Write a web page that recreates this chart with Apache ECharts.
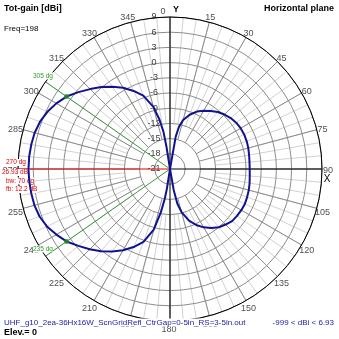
<!DOCTYPE html>
<html>
<head>
<meta charset="utf-8">
<script src="https://cdn.jsdelivr.net/npm/echarts@6/dist/echarts.min.js"></script>
<style>
html, body { margin: 0; padding: 0; background: #fff; }
#c { width: 339px; height: 339px; }
</style>
</head>
<body>
<div id="c"></div>
<script>
// Horizontal-plane total gain (dBi) of the antenna, one value per azimuth (degrees).
const patternAngles = [0, 8, 10, 12, 15, 20, 25, 30, 35, 40, 45, 50, 55, 60, 65, 70, 75, 80, 85, 90,
  95, 100, 105, 110, 115, 120, 125, 130, 135, 140, 145, 150, 155, 160, 165, 168, 170, 172, 180,
  187, 189, 190, 192, 195, 200, 205, 210, 215, 220, 225, 230, 235, 240, 245, 250, 255, 260, 265, 270,
  275, 280, 285, 290, 295, 300, 305, 310, 315, 320, 325, 330, 335, 340, 345, 348, 350, 351, 353, 360];
const patternGain = [-21, -21, -14.5, -12.5, -11.0, -9.6, -8.5, -7.7, -7.0, -6.3, -5.8, -5.35, -5.05, -4.9, -4.85, -4.9, -5.0, -5.15, -5.25, -5.27,
  -5.2, -5.05, -4.9, -4.8, -4.7, -4.75, -4.85, -5.0, -5.5, -6.0, -6.8, -7.7, -8.8, -10.2, -12.2, -14.0, -16.8, -21, -21,
  -21, -17, -15, -12.2, -8.6, -5.7, -4.0, -2.5, -1.1, 0.2, 1.4, 2.6, 3.93, 4.9, 5.8, 6.4, 6.7, 6.8, 6.88, 6.93,
  6.9, 6.8, 6.65, 6.3, 5.7, 4.9, 3.93, 2.6, 1.3, 0.1, -1.2, -2.5, -4.0, -5.6, -8.3, -11.0, -13.5, -16.5, -21, -21];

// Axis ticks
const azimuthTicks = [0, 15, 30, 45, 60, 75, 90, 105, 120, 135, 150, 165, 180, 195, 210, 225, 240, 255, 270, 285, 300, 315, 330, 345];
const gainMin = -21;
const gainMax = 9;
const gainStep = 3;

// Beam summary
const peakAzimuth = 270;
const peakGain = 6.93;
const halfPowerAzimuths = [305, 235];
const halfPowerGain = 3.93;
const beamWidth = 70;
const frontToBack = 12.2;
const freq = 198;
const elevation = 0;
const minGain = -999;
const fileName = 'UHF_g10_2ea-36Hx16W_ScnGridRefl_CtrGap=0-5in_RS=3-5in.out';

const FONT = '"Liberation Sans", Arial, sans-serif';
const CENTER = [170, 169];
const R = 152;
const ringR = g => (g - gainMin) / (gainMax - gainMin) * R;

const chart = echarts.init(document.getElementById('c'), null, { renderer: 'canvas' });

const hiddenRadius = (min, max) => ({ type: 'value', min, max, show: false, axisLine: { show: false }, axisTick: { show: false }, axisLabel: { show: false }, splitLine: { show: false } });
const angleBase = (polarIndex, interval) => ({
  polarIndex, type: 'value', min: 0, max: 360, interval, startAngle: 90, clockwise: true,
  axisLine: { show: false }, axisTick: { show: false }, axisLabel: { show: false }, splitLine: { show: false }
});

const option = {
  animation: false,
  backgroundColor: '#fff',
  polar: [
    { center: CENTER, radius: [0, R] },
    { center: CENTER, radius: [ringR(-15), R] },
    { center: CENTER, radius: [ringR(-12), R] },
    { center: CENTER, radius: [0, R + 7] }
  ],
  radiusAxis: [
    {
      polarIndex: 0, type: 'value', min: gainMin, max: gainMax, interval: gainStep, z: 3,
      axisLine: { show: false }, axisTick: { show: false },
      axisLabel: { color: '#404040', fontSize: 9, fontFamily: FONT, margin: 16, align: 'center' },
      splitLine: { show: true, lineStyle: { color: '#8c8c8c', width: 1 } }
    },
    Object.assign({ polarIndex: 1 }, hiddenRadius(0, 1)),
    Object.assign({ polarIndex: 2 }, hiddenRadius(0, 1)),
    Object.assign({ polarIndex: 3 }, hiddenRadius(0, 1))
  ],
  angleAxis: [
    Object.assign(angleBase(0, 15), { z: 4, axisLine: { show: true, lineStyle: { color: '#000', width: 1 } } }),
    Object.assign(angleBase(1, 15), { z: 2, splitLine: { show: true, lineStyle: { color: '#8c8c8c', width: 1 } } }),
    Object.assign(angleBase(2, 5), { z: 1, splitLine: { show: true, lineStyle: { color: '#d2d2d2', width: 1 } } }),
    angleBase(3, 15)
  ],
  series: [
    // main axes
    { type: 'line', coordinateSystem: 'polar', polarIndex: 0, z: 5, silent: true, showSymbol: false,
      data: [[gainMax, 0], [gainMax, 180]], lineStyle: { color: '#000', width: 1 } },
    { type: 'line', coordinateSystem: 'polar', polarIndex: 0, z: 5, silent: true, showSymbol: false,
      data: [[gainMin, 90], [gainMax, 90]], lineStyle: { color: '#000', width: 1 } },
    // peak direction
    { type: 'line', coordinateSystem: 'polar', polarIndex: 0, z: 6, silent: true, showSymbol: false,
      data: [[gainMin, peakAzimuth], [gainMax, peakAzimuth]], lineStyle: { color: '#e00000', width: 1 } },
    // half-power directions
    { type: 'line', coordinateSystem: 'polar', polarIndex: 0, z: 6, silent: true, showSymbol: false,
      data: [[gainMin, halfPowerAzimuths[0]], [gainMax, halfPowerAzimuths[0]]], lineStyle: { color: '#3a9a3a', width: 1 } },
    { type: 'line', coordinateSystem: 'polar', polarIndex: 0, z: 6, silent: true, showSymbol: false,
      data: [[gainMin, halfPowerAzimuths[1]], [gainMax, halfPowerAzimuths[1]]], lineStyle: { color: '#3a9a3a', width: 1 } },
    // gain pattern
    { type: 'line', coordinateSystem: 'polar', polarIndex: 0, z: 10, silent: true, showSymbol: false,
      data: patternAngles.map((a, i) => [patternGain[i], a]),
      lineStyle: { color: '#10128e', width: 2 } },
    // half-power points
    { type: 'scatter', coordinateSystem: 'polar', polarIndex: 0, z: 11, silent: true,
      symbolSize: 5, itemStyle: { color: '#2a8a2a' },
      data: halfPowerAzimuths.map(a => [halfPowerGain, a]) },
    // azimuth labels
    { type: 'scatter', coordinateSystem: 'polar', polarIndex: 3, z: 4, silent: true, symbolSize: 0,
      data: azimuthTicks.map(a => ({ value: [1, a], label: a === 0 ? { offset: [-7, 2] } : {} })),
      label: { show: true, position: 'inside', offset: [-1, 2], formatter: p => String(p.value[1]),
        color: '#202020', fontSize: 9, fontFamily: FONT } }
  ],
  graphic: [
    { type: 'text', x: 4, y: 9, z: 20, style: { text: 'Tot-gain [dBi]', font: 'bold 9px ' + FONT, fill: '#000', verticalAlign: 'middle' } },
    { type: 'text', x: 334, y: 9, z: 20, style: { text: 'Horizontal plane', font: 'bold 9px ' + FONT, fill: '#000', align: 'right', verticalAlign: 'middle' } },
    { type: 'text', x: 4, y: 29, z: 20, style: { text: 'Freq=' + freq, font: '8px ' + FONT, fill: '#000', verticalAlign: 'middle' } },
    { type: 'text', x: 176, y: 10, z: 20, style: { text: 'Y', font: 'bold 9px ' + FONT, fill: '#000', align: 'center', verticalAlign: 'middle' } },
    { type: 'text', x: 327, y: 179, z: 20, style: { text: 'X', font: '10px ' + FONT, fill: '#000', align: 'center', verticalAlign: 'middle' } },
    // peak / beam annotations
    { type: 'text', x: 6, y: 162.5, z: 8, style: { text: peakAzimuth + ' dg', font: '6.5px ' + FONT, fill: '#e00000', verticalAlign: 'middle', backgroundColor: '#fff' } },
    { type: 'text', x: 2, y: 172.5, z: 8, style: { text: '2' + peakGain.toFixed(2) + ' dBi', font: '6.5px ' + FONT, fill: '#e00000', verticalAlign: 'middle', backgroundColor: '#fff' } },
    { type: 'text', x: 6, y: 181, z: 8, style: { text: 'bw: ' + beamWidth + ' dg', font: '6.5px ' + FONT, fill: '#e00000', verticalAlign: 'middle', backgroundColor: '#fff' } },
    { type: 'text', x: 6, y: 189.5, z: 8, style: { text: 'fb: ' + frontToBack + ' dB', font: '6.5px ' + FONT, fill: '#e00000', verticalAlign: 'middle', backgroundColor: '#fff' } },
    { type: 'text', x: 33, y: 76, z: 8, style: { text: halfPowerAzimuths[0] + ' dg', font: '6.5px ' + FONT, fill: '#2a9a2a', verticalAlign: 'middle', backgroundColor: '#fff' } },
    { type: 'text', x: 33, y: 249, z: 8, style: { text: halfPowerAzimuths[1] + ' dg', font: '6.5px ' + FONT, fill: '#2a9a2a', verticalAlign: 'middle', backgroundColor: '#fff' } },
    // footer
    { type: 'text', x: 4, y: 322.5, z: 20, style: { text: fileName, font: '8px ' + FONT, fill: '#1a1aa8', verticalAlign: 'middle', backgroundColor: '#fff' } },
    { type: 'text', x: 334, y: 322.5, z: 20, style: { text: minGain + ' < dBi < ' + peakGain, font: '8px ' + FONT, fill: '#1a1aa8', align: 'right', verticalAlign: 'middle', backgroundColor: '#fff' } },
    { type: 'text', x: 4, y: 333, z: 20, style: { text: 'Elev.= ' + elevation, font: 'bold 9px ' + FONT, fill: '#000', verticalAlign: 'middle' } }
  ]
};

chart.setOption(option);
</script>
</body>
</html>
